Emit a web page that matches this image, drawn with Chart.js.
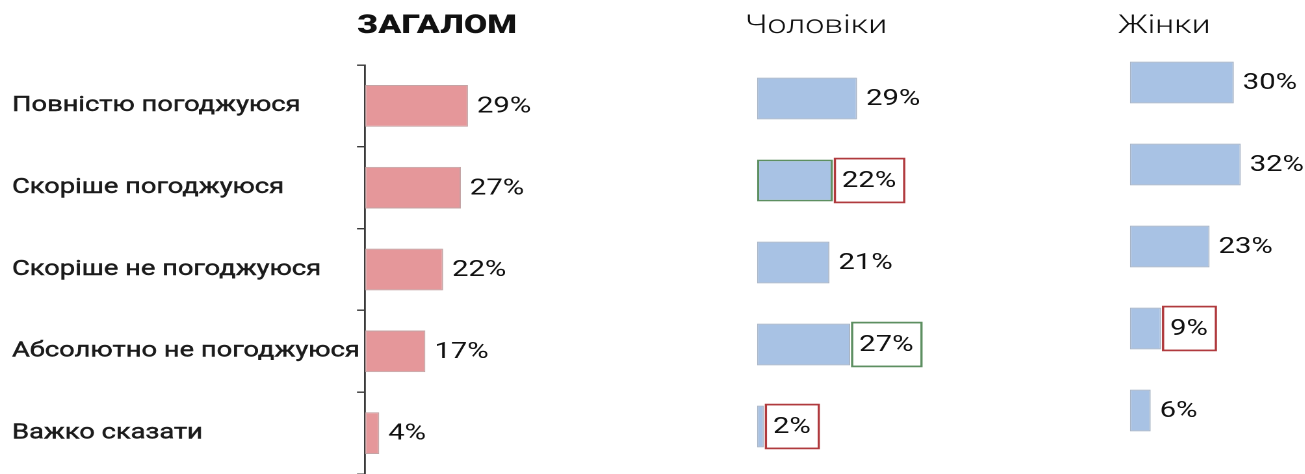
<!DOCTYPE html>
<html lang="uk">
<head>
<meta charset="utf-8">
<script src="https://cdn.jsdelivr.net/npm/chart.js@4.4.1/dist/chart.umd.min.js"></script>
<style>
  html, body { margin: 0; padding: 0; background: #ffffff; width: 1305px; height: 474px; overflow: hidden; }
  canvas { position: absolute; top: 0; }
</style>
</head>
<body>
<canvas id="cTotal" width="500" height="474"></canvas>
<canvas id="cMale" width="240" height="474"></canvas>
<canvas id="cFemale" width="178" height="474"></canvas>
<script>
// ---------- data ----------
const categories = [
  'Повністю погоджуюся',
  'Скоріше погоджуюся',
  'Скоріше не погоджуюся',
  'Абсолютно не погоджуюся',
  'Важко сказати'
];
const totalValues  = [29, 27, 22, 17, 4];
const maleValues   = [29, 22, 21, 27, 2];
const femaleValues = [30, 32, 23, 9, 6];
const panelTitles  = ['ЗАГАЛОМ', 'Чоловіки', 'Жінки'];

// ---------- styles ----------
const SX = 1.3;                     // horizontal stretch of the picture
const L = v => v / SX;              // real px -> canvas px (horizontal)
const PINK = '#e5979a', PINK_EDGE = '#c4a4a5';
const BLUE = '#a8c2e4', BLUE_EDGE = '#a9b5c6';
const RED_BOX = '#b03a3e', GREEN_BOX = '#5d8f61';
const TEXT = '#1b1b1b';
// highlight boxes around value labels, by category index
const maleBoxes   = [null, RED_BOX, null, GREEN_BOX, RED_BOX];
const femaleBoxes = [null, null, null, RED_BOX, null];
const maleOutlined = 1;             // bar with green outline

function placeCanvas(id, leftReal) {
  const c = document.getElementById(id);
  c.style.left = leftReal + 'px';
  c.style.width = (c.width * SX) + 'px';
  c.style.height = c.height + 'px';
  return c;
}

function valueLabels(boxes) {
  return {
    id: 'valueLabels',
    afterDatasetsDraw(chart) {
      const ctx = chart.ctx;
      const meta = chart.getDatasetMeta(0);
      const data = chart.data.datasets[0].data;
      ctx.save();
      ctx.font = '400 22.5px Roboto';
      ctx.textBaseline = 'middle';
      ctx.textAlign = 'left';
      meta.data.forEach((bar, i) => {
        const text = data[i] + '%';
        const tx = bar.x + L(9);
        const w = ctx.measureText(text).width;
        const box = boxes ? boxes[i] : null;
        if (box) {
          const x0 = bar.x + L(2);
          const x1 = tx + w + L(8);
          const h = bar.height + 2;
          ctx.fillStyle = '#ffffff';
          ctx.fillRect(x0, bar.y - h / 2, x1 - x0, h);
          ctx.strokeStyle = box;
          ctx.lineWidth = 1.7;
          ctx.strokeRect(x0, bar.y - h / 2, x1 - x0, h);
        }
        ctx.fillStyle = '#111111';
        ctx.fillText(text, tx, bar.y + 1);
      });
      ctx.restore();
    }
  };
}

function panelTitle(text, font, dxReal) {
  return {
    id: 'panelTitle',
    afterDraw(chart) {
      const ctx = chart.ctx;
      ctx.save();
      ctx.font = font;
      ctx.fillStyle = '#111111';
      ctx.textAlign = 'left';
      ctx.textBaseline = 'alphabetic';
      ctx.fillText(text, chart.chartArea.left + L(dxReal), 33);
      ctx.restore();
    }
  };
}

function makeChart(canvas, cfg) {
  return new Chart(canvas, {
    type: 'bar',
    data: {
      labels: categories,
      datasets: [{
        data: cfg.values,
        backgroundColor: cfg.fill,
        borderColor: cfg.edge,
        borderWidth: cfg.edgeWidth,
        borderSkipped: false,
        categoryPercentage: 1,
        barPercentage: 0.51
      }]
    },
    options: {
      indexAxis: 'y',
      responsive: false,
      animation: false,
      devicePixelRatio: 2,
      layout: { padding: cfg.padding },
      plugins: { legend: { display: false }, tooltip: { enabled: false }, title: { display: false } },
      scales: {
        x: { type: 'linear', min: 0, max: cfg.max, display: false },
        y: cfg.yAxis
      }
    },
    plugins: [valueLabels(cfg.boxes), panelTitle(cfg.title, cfg.titleFont, cfg.titleDx)]
  });
}

// ---------- panel 1: total ----------
const c1 = placeCanvas('cTotal', 0);
const axisLeft = L(12), axisRight = L(365);
const scale1 = L(3.55);            // canvas px per %
makeChart(c1, {
  values: totalValues,
  fill: PINK, edge: PINK_EDGE, edgeWidth: 1,
  max: 60,
  padding: { left: axisLeft, top: 65, bottom: -3, right: c1.width - axisRight - 60 * scale1 },
  boxes: null,
  title: panelTitles[0], titleFont: '900 26px Roboto', titleDx: -8,
  yAxis: {
    display: true,
    afterFit: s => {
      s.width = axisRight - axisLeft;
      s.paddingTop = 0; s.paddingBottom = 0;
    },
    grid: { display: true, drawOnChartArea: false, drawTicks: true, tickLength: L(8), color: '#3a3a3a', lineWidth: 1.4 },
    border: { display: true, color: '#3a3a3a', width: 1.4 },
    ticks: {
      crossAlign: 'far', color: TEXT,
      textStrokeColor: TEXT, textStrokeWidth: 0.45,
      font: { family: 'Roboto', size: 21, weight: '400' }, padding: 4
    }
  }
});

// ---------- panel 2: men ----------
const c2 = placeCanvas('cMale', 700);
const left2 = L(757 - 700), scale2 = L(3.45);
makeChart(c2, {
  values: maleValues,
  fill: BLUE,
  edge: maleValues.map((v, i) => i === maleOutlined ? GREEN_BOX : BLUE_EDGE),
  edgeWidth: maleValues.map((v, i) => i === maleOutlined ? 1.7 : 1),
  max: 60,
  padding: { left: left2, top: 57.5, bottom: 6.5, right: c2.width - left2 - 60 * scale2 },
  boxes: maleBoxes,
  title: panelTitles[1], titleFont: '300 26px Roboto', titleDx: -12,
  yAxis: { display: false }
});

// ---------- panel 3: women ----------
const c3 = placeCanvas('cFemale', 1075);
const left3 = L(1130 - 1075), scale3 = L(3.47);
makeChart(c3, {
  values: femaleValues,
  fill: BLUE, edge: BLUE_EDGE, edgeWidth: 1,
  max: 50,
  padding: { left: left3, top: 41.5, bottom: 22.5, right: c3.width - left3 - 50 * scale3 },
  boxes: femaleBoxes,
  title: panelTitles[2], titleFont: '300 26px Roboto', titleDx: -12,
  yAxis: { display: false }
});
</script>
</body>
</html>
